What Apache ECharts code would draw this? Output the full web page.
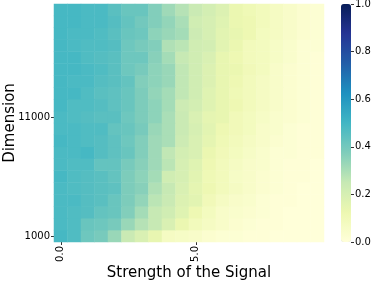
<!DOCTYPE html>
<html><head><meta charset="utf-8">
<script src="https://cdn.jsdelivr.net/npm/echarts@6/dist/echarts.min.js"></script>
<style>html,body{margin:0;padding:0;background:#ffffff}#chart{width:374px;height:282px}</style>
</head><body><div id="chart"></div>
<script>
// Signal strengths (x) and dimensions (y)
const strengths = ["0.0","0.5","1.0","1.5","2.0","2.5","3.0","3.5","4.0","4.5","5.0","5.5","6.0","6.5","7.0","7.5","8.0","8.5","9.0","9.5"];
const dimensions = ["1000","2000","3000","4000","5000","6000","7000","8000","9000","10000","11000","12000","13000","14000","15000","16000","17000","18000","19000","20000"];
const colorTicks = [0, 0.2, 0.4, 0.6, 0.8, 1.0];
// values per dimension row (from 1000 up to 20000), one per strength
const row1000  = [0.49,0.47,0.41,0.39,0.33,0.24,0.19,0.14,0.07,0.06,0.05,0.03,0.02,0.02,0.01,0.01,0,0,0,0];
const row2000  = [0.48,0.47,0.42,0.41,0.39,0.33,0.28,0.25,0.19,0.13,0.09,0.07,0.05,0.03,0.02,0.01,0.01,0,0,0];
const row3000  = [0.48,0.47,0.46,0.43,0.42,0.37,0.31,0.25,0.22,0.17,0.12,0.08,0.05,0.04,0.03,0.02,0.01,0,0,0];
const row4000  = [0.48,0.48,0.46,0.45,0.42,0.38,0.34,0.27,0.24,0.18,0.16,0.10,0.07,0.05,0.04,0.02,0.01,0.01,0,0];
const row5000  = [0.48,0.47,0.46,0.45,0.44,0.38,0.36,0.29,0.25,0.19,0.15,0.12,0.09,0.07,0.05,0.03,0.02,0.01,0,0];
const row6000  = [0.49,0.47,0.46,0.45,0.43,0.38,0.35,0.31,0.22,0.20,0.16,0.11,0.09,0.06,0.05,0.03,0.02,0.01,0.01,0];
const row7000  = [0.48,0.47,0.47,0.43,0.43,0.39,0.36,0.32,0.27,0.20,0.17,0.12,0.09,0.07,0.05,0.04,0.02,0.01,0.01,0];
const row8000  = [0.48,0.48,0.49,0.46,0.44,0.42,0.37,0.32,0.26,0.21,0.19,0.13,0.10,0.08,0.06,0.04,0.02,0.02,0.01,0.01];
const row9000  = [0.49,0.48,0.47,0.46,0.44,0.41,0.37,0.32,0.30,0.23,0.19,0.15,0.11,0.09,0.07,0.05,0.03,0.02,0.01,0.01];
const row10000 = [0.48,0.48,0.47,0.47,0.43,0.42,0.39,0.33,0.30,0.24,0.20,0.16,0.12,0.10,0.08,0.05,0.04,0.02,0.01,0.01];
const row11000 = [0.48,0.47,0.46,0.45,0.45,0.41,0.38,0.35,0.30,0.24,0.19,0.15,0.14,0.10,0.08,0.06,0.04,0.03,0.02,0.01];
const row12000 = [0.49,0.47,0.47,0.46,0.44,0.42,0.38,0.35,0.31,0.23,0.21,0.17,0.14,0.12,0.09,0.07,0.05,0.03,0.02,0.01];
const row13000 = [0.49,0.49,0.47,0.45,0.44,0.42,0.38,0.34,0.31,0.26,0.22,0.17,0.14,0.11,0.09,0.07,0.05,0.03,0.02,0.01];
const row14000 = [0.49,0.48,0.48,0.46,0.45,0.43,0.37,0.35,0.33,0.26,0.22,0.18,0.14,0.12,0.09,0.07,0.05,0.03,0.02,0.01];
const row15000 = [0.49,0.49,0.48,0.47,0.45,0.41,0.39,0.35,0.33,0.26,0.22,0.18,0.14,0.13,0.10,0.08,0.05,0.03,0.02,0.01];
const row16000 = [0.49,0.49,0.47,0.46,0.45,0.41,0.41,0.36,0.31,0.25,0.22,0.19,0.14,0.12,0.09,0.08,0.06,0.04,0.02,0.01];
const row17000 = [0.49,0.48,0.47,0.47,0.46,0.41,0.39,0.37,0.29,0.27,0.22,0.21,0.16,0.13,0.09,0.08,0.06,0.04,0.02,0.02];
const row18000 = [0.49,0.48,0.48,0.47,0.45,0.42,0.41,0.35,0.33,0.31,0.23,0.20,0.16,0.14,0.12,0.08,0.07,0.05,0.03,0.02];
const row19000 = [0.49,0.49,0.48,0.48,0.46,0.43,0.40,0.37,0.34,0.30,0.22,0.20,0.17,0.13,0.12,0.09,0.07,0.05,0.03,0.02];
const row20000 = [0.49,0.49,0.48,0.48,0.45,0.42,0.42,0.37,0.32,0.28,0.24,0.21,0.18,0.13,0.11,0.09,0.07,0.05,0.03,0.02];
const rows = [row1000,row2000,row3000,row4000,row5000,row6000,row7000,row8000,row9000,row10000,
              row11000,row12000,row13000,row14000,row15000,row16000,row17000,row18000,row19000,row20000];

const cells = [];
rows.forEach((r, yi) => r.forEach((v, xi) => cells.push([xi, yi, v])));

const fontName = 'DejaVu Sans';
const myChart = echarts.init(document.getElementById('chart'));
myChart.setOption({
  animation: false,
  grid: [
    {left: 54, right: 50, top: 4, bottom: 40, containLabel: false, outerBoundsMode: 'none', show: false},
    {left: 341, right: 23, top: 4, bottom: 40, containLabel: false, outerBoundsMode: 'none', show: false}
  ],
  xAxis: [
    {type: 'category', data: strengths, gridIndex: 0,
     name: 'Strength of the Signal', nameLocation: 'middle', nameGap: 24, nameMoveOverlap: false,
     nameTextStyle: {fontFamily: fontName, fontSize: 15, color: '#000'},
     axisLine: {show: false},
     axisTick: {show: true, interval: 9, alignWithLabel: true, length: 3, lineStyle: {color: '#333'}},
     axisLabel: {interval: 9, rotate: 90, fontFamily: fontName, fontSize: 10, color: '#000', margin: 4},
     splitLine: {show: false}},
    {type: 'value', gridIndex: 1, show: false, min: 0, max: 1}
  ],
  yAxis: [
    {type: 'category', data: dimensions, gridIndex: 0,
     name: 'Dimension', nameLocation: 'middle', nameGap: 36, nameRotate: 90, nameMoveOverlap: false,
     nameTextStyle: {fontFamily: fontName, fontSize: 15, color: '#000'},
     axisLine: {show: false},
     axisTick: {show: true, interval: 9, alignWithLabel: true, length: 3, lineStyle: {color: '#333'}},
     axisLabel: {interval: 9, fontFamily: fontName, fontSize: 10, color: '#000', margin: 4},
     splitLine: {show: false}},
    {type: 'value', gridIndex: 1, position: 'right', min: 0, max: 1, interval: 0.2,
     axisLine: {show: false, onZero: false},
     axisTick: {show: true, length: 3, lineStyle: {color: '#333'}},
     axisLabel: {fontFamily: fontName, fontSize: 10, color: '#000', margin: 4,
       formatter: v => colorTicks.some(t => Math.abs(t - v) < 1e-9) ? v.toFixed(1) : ''},
     splitLine: {show: false}}
  ],
  visualMap: {
    type: 'continuous', min: 0, max: 1, calculable: false, show: true,
    orient: 'vertical', left: 341, top: 4, padding: 0,
    itemWidth: 10, itemHeight: 238, text: null, showLabel: false,
    hoverLink: false,
    seriesIndex: 0,
    inRange: {color: ['#ffffd9','#edf8b1','#c7e9b4','#7fcdbb','#41b6c4','#1d91c0','#225ea8','#253494','#081d58']}
  },
  series: [{
    type: 'heatmap', data: cells, xAxisIndex: 0, yAxisIndex: 0,
    itemStyle: {borderWidth: 0}, emphasis: {disabled: true}
  }]
});
</script></body></html>
